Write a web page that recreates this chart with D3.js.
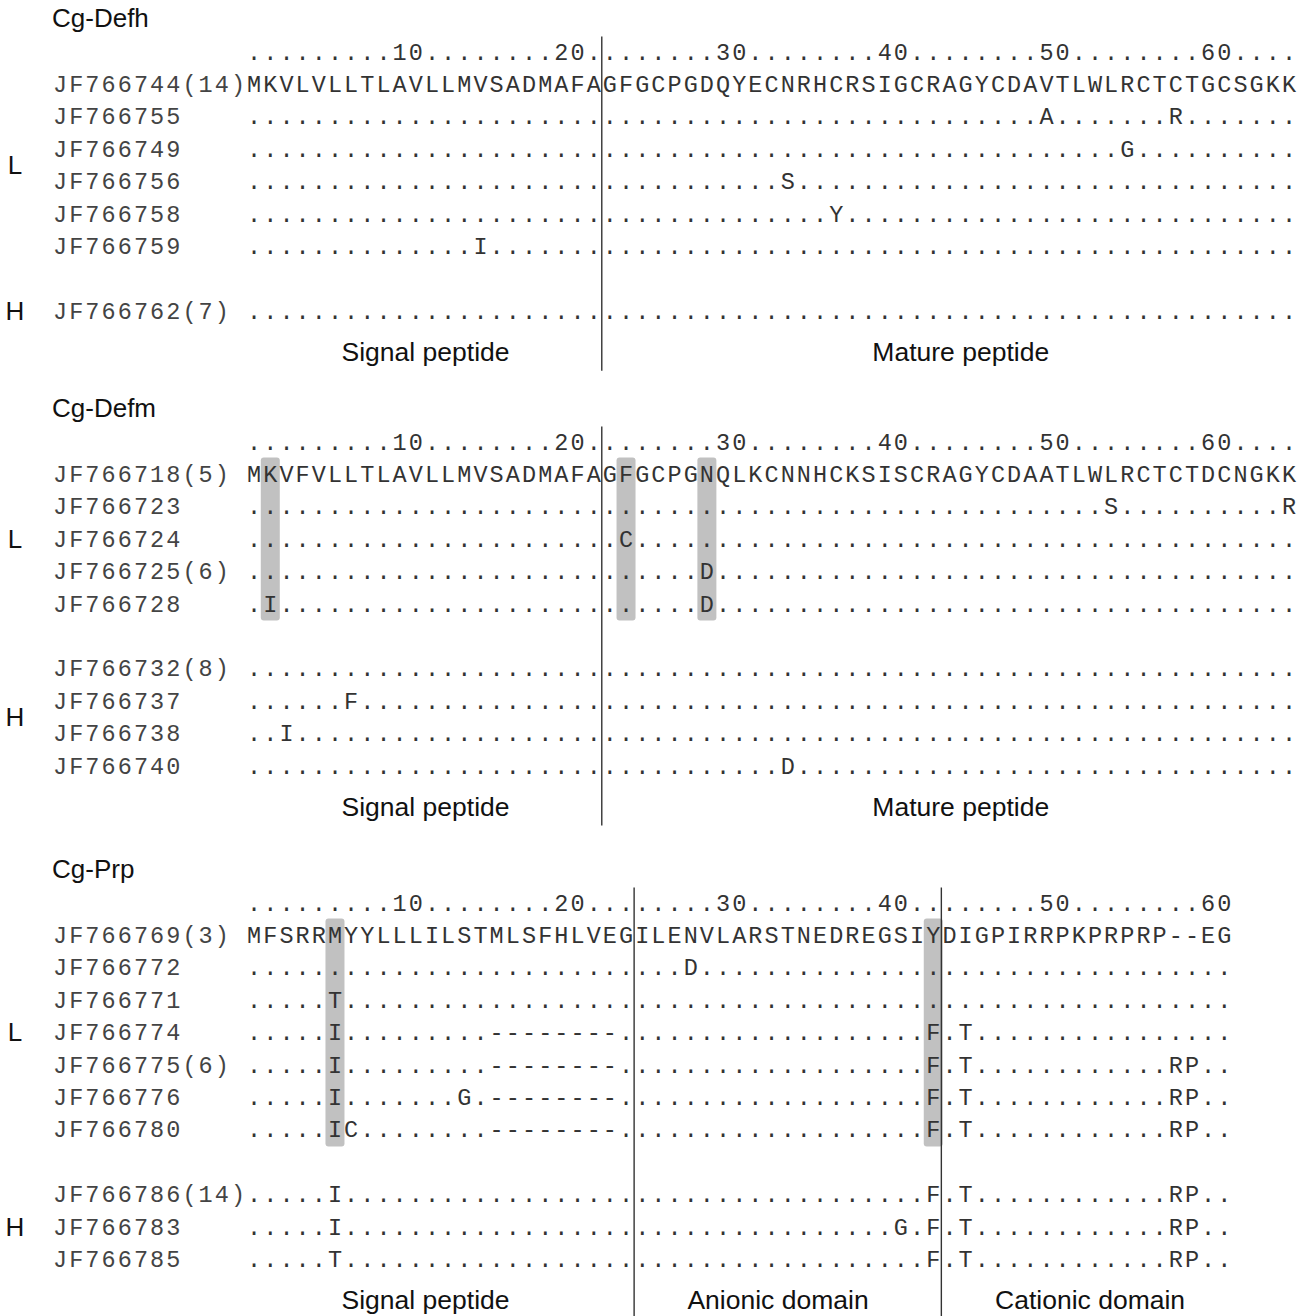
<!DOCTYPE html>
<html>
<head>
<meta charset="utf-8">
<script src="https://cdn.jsdelivr.net/npm/d3@7"></script>
<style>
  body { margin: 0; background: #fff; }
  svg { display: block; }
</style>
</head>
<body>
<script>
// ---- Consensus sequences (first row of each block) ----
const defhConsensus = "MKVLVLLTLAVLLMVSADMAFAGFGCPGDQYECNRHCRSIGCRAGYCDAVTLWLRCTCTGCSGKK";
const defmConsensus = "MKVFVLLTLAVLLMVSADMAFAGFGCPGNQLKCNNHCKSISCRAGYCDAATLWLRCTCTDCNGKK";
const prpConsensus  = "MFSRRMYYLLLILSTMLSFHLVEGILENVLARSTNEDREGSIYDIGPIRRPKPRPRP--EG";

// ---- Sequence names, population group and residue changes (position -> residue) ----
const defhIds     = ["JF766744(14)", "JF766755", "JF766749", "JF766756", "JF766758", "JF766759", "JF766762(7)"];
const defhGroups  = ["L", "L", "L", "L", "L", "L", "H"];
const defhChanges = [null, {50: "A", 58: "R"}, {55: "G"}, {34: "S"}, {37: "Y"}, {15: "I"}, {}];

const defmIds     = ["JF766718(5)", "JF766723", "JF766724", "JF766725(6)", "JF766728",
                     "JF766732(8)", "JF766737", "JF766738", "JF766740"];
const defmGroups  = ["L", "L", "L", "L", "L", "H", "H", "H", "H"];
const defmChanges = [null, {54: "S", 65: "R"}, {24: "C"}, {29: "D"}, {2: "I", 29: "D"},
                     {}, {7: "F"}, {3: "I"}, {34: "D"}];

const prpDeletion = {16: "-", 17: "-", 18: "-", 19: "-", 20: "-", 21: "-", 22: "-", 23: "-"};
const prpIds      = ["JF766769(3)", "JF766772", "JF766771", "JF766774", "JF766775(6)", "JF766776", "JF766780",
                     "JF766786(14)", "JF766783", "JF766785"];
const prpGroups   = ["L", "L", "L", "L", "L", "L", "L", "H", "H", "H"];
const prpChanges  = [
  null,
  {28: "D"},
  {6: "T"},
  Object.assign({6: "I", 43: "F", 45: "T"}, prpDeletion),
  Object.assign({6: "I", 43: "F", 45: "T", 58: "R", 59: "P"}, prpDeletion),
  Object.assign({6: "I", 14: "G", 43: "F", 45: "T", 58: "R", 59: "P"}, prpDeletion),
  Object.assign({6: "I", 7: "C", 43: "F", 45: "T", 58: "R", 59: "P"}, prpDeletion),
  {6: "I", 43: "F", 45: "T", 58: "R", 59: "P"},
  {6: "I", 41: "G", 43: "F", 45: "T", 58: "R", 59: "P"},
  {6: "T", 43: "F", 45: "T", 58: "R", 59: "P"}
];

// ---- Ruler ticks ----
const rulerTicks = [10, 20, 30, 40, 50, 60];

// ---- Domains (residue ranges; label placed at residue "mid") ----
const defhDomains = [{name: "Signal peptide", from: 1, to: 22, mid: 11.6},
                     {name: "Mature peptide", from: 23, to: 65, mid: 44.7}];
const defmDomains = [{name: "Signal peptide", from: 1, to: 22, mid: 11.6},
                     {name: "Mature peptide", from: 23, to: 65, mid: 44.7}];
const prpDomains  = [{name: "Signal peptide", from: 1, to: 24, mid: 11.6},
                     {name: "Anionic domain", from: 25, to: 43, mid: 33.4},
                     {name: "Cationic domain", from: 44, to: 61, mid: 52.7}];

// ---- Shaded columns: residue positions and row span ----
const defmShade = {positions: [2, 24, 29], rows: [0, 4]};
const prpShade  = {positions: [6, 43], rows: [0, 6]};

// ---- Layout ----
const W = 1309, H = 1316;
const CHAR = 16.17;          // column pitch
const LEFT = 52;             // left edge of first column
const NAME_COLS = 12;        // columns reserved for names
const ROW = 32.4;            // row pitch
const MONO = "'Liberation Mono', 'DejaVu Sans Mono', monospace";
const SANS = "'Liberation Sans', Arial, Helvetica, sans-serif";

const svg = d3.select("body").append("svg").attr("width", W).attr("height", H);

// column index -> left edge
const colX = d3.scaleLinear().domain([0, 1]).range([LEFT, LEFT + CHAR]);
const posCenter = p => colX(NAME_COLS + p - 1) + CHAR / 2;
const posLeft = p => colX(NAME_COLS + p - 1);

function drawChars(g, str, startCol, y, color) {
  const chars = Array.from(str).map((c, i) => ({c, i}));
  g.append("g").selectAll("text").data(chars).join("text")
    .attr("x", d => colX(startCol + d.i) + CHAR / 2)
    .attr("y", y + 8)
    .attr("text-anchor", "middle")
    .attr("font-family", MONO)
    .attr("font-size", 23.5)
    .attr("fill", color)
    .text(d => d.c === " " ? "" : d.c);
}

function rulerString(len) {
  const arr = new Array(len).fill(".");
  rulerTicks.forEach(t => {
    const s = String(t);
    for (let k = 0; k < s.length; k++) if (t - 1 + k < len) arr[t - 1 + k] = s[k];
  });
  return arr.join("");
}

function panel(opts) {
  const {title, consensus, ids, groups, changes, domains, shade, top} = opts;
  const g = svg.append("g");
  const len = consensus.length;

  // row y positions: one blank row between the L and H groups
  const rowY = [];
  let r = 0;
  ids.forEach((id, i) => {
    if (i > 0 && groups[i] !== groups[i - 1]) r += 1;
    rowY.push(top + r * ROW);
    r += 1;
  });
  const lastY = rowY[rowY.length - 1];
  const rulerY = top - ROW;

  // shaded columns (drawn first, behind letters)
  if (shade) {
    const y0 = rowY[shade.rows[0]] - 16.5, y1 = rowY[shade.rows[1]] + 17;
    g.append("g").selectAll("rect").data(shade.positions).join("rect")
      .attr("x", p => posCenter(p) - 9.5)
      .attr("y", y0)
      .attr("width", 19)
      .attr("height", y1 - y0)
      .attr("rx", 3)
      .attr("fill", "#c1c1c1");
  }

  // title
  g.append("text").attr("x", LEFT).attr("y", top - 66 + 9)
    .attr("font-family", SANS).attr("font-size", 26).attr("fill", "#111").text(title);

  // ruler
  drawChars(g, rulerString(len), NAME_COLS, rulerY, "#333");

  // rows
  ids.forEach((id, i) => {
    drawChars(g, id, 0, rowY[i], "#444");
    let s;
    if (!changes[i]) s = consensus;
    else s = Array.from(consensus).map((c, k) => changes[i][k + 1] || ".").join("");
    drawChars(g, s, NAME_COLS, rowY[i], "#333");
  });

  // group letters
  const grpNames = Array.from(new Set(groups));
  grpNames.forEach(gn => {
    const ys = rowY.filter((y, i) => groups[i] === gn);
    g.append("text").attr("x", 15).attr("y", d3.mean(ys) + 9)
      .attr("text-anchor", "middle")
      .attr("font-family", SANS).attr("font-size", 26).attr("fill", "#111").text(gn);
  });

  // domain boundaries
  domains.slice(1).forEach(d => {
    g.append("line")
      .attr("x1", posLeft(d.from)).attr("x2", posLeft(d.from))
      .attr("y1", rulerY - 15).attr("y2", Math.min(lastY + 60, H))
      .attr("stroke", "#333").attr("stroke-width", 1.4);
  });

  // domain names
  g.append("g").selectAll("text").data(domains).join("text")
    .attr("x", d => posCenter(d.mid))
    .attr("y", lastY + 41 + 9)
    .attr("text-anchor", "middle")
    .attr("font-family", SANS).attr("font-size", 26.5).attr("fill", "#111")
    .text(d => d.name);
}

panel({title: "Cg-Defh", consensus: defhConsensus, ids: defhIds, groups: defhGroups,
       changes: defhChanges, domains: defhDomains, shade: null, top: 84});
panel({title: "Cg-Defm", consensus: defmConsensus, ids: defmIds, groups: defmGroups,
       changes: defmChanges, domains: defmDomains, shade: defmShade, top: 474});
panel({title: "Cg-Prp", consensus: prpConsensus, ids: prpIds, groups: prpGroups,
       changes: prpChanges, domains: prpDomains, shade: prpShade, top: 935});
</script>
</body>
</html>
